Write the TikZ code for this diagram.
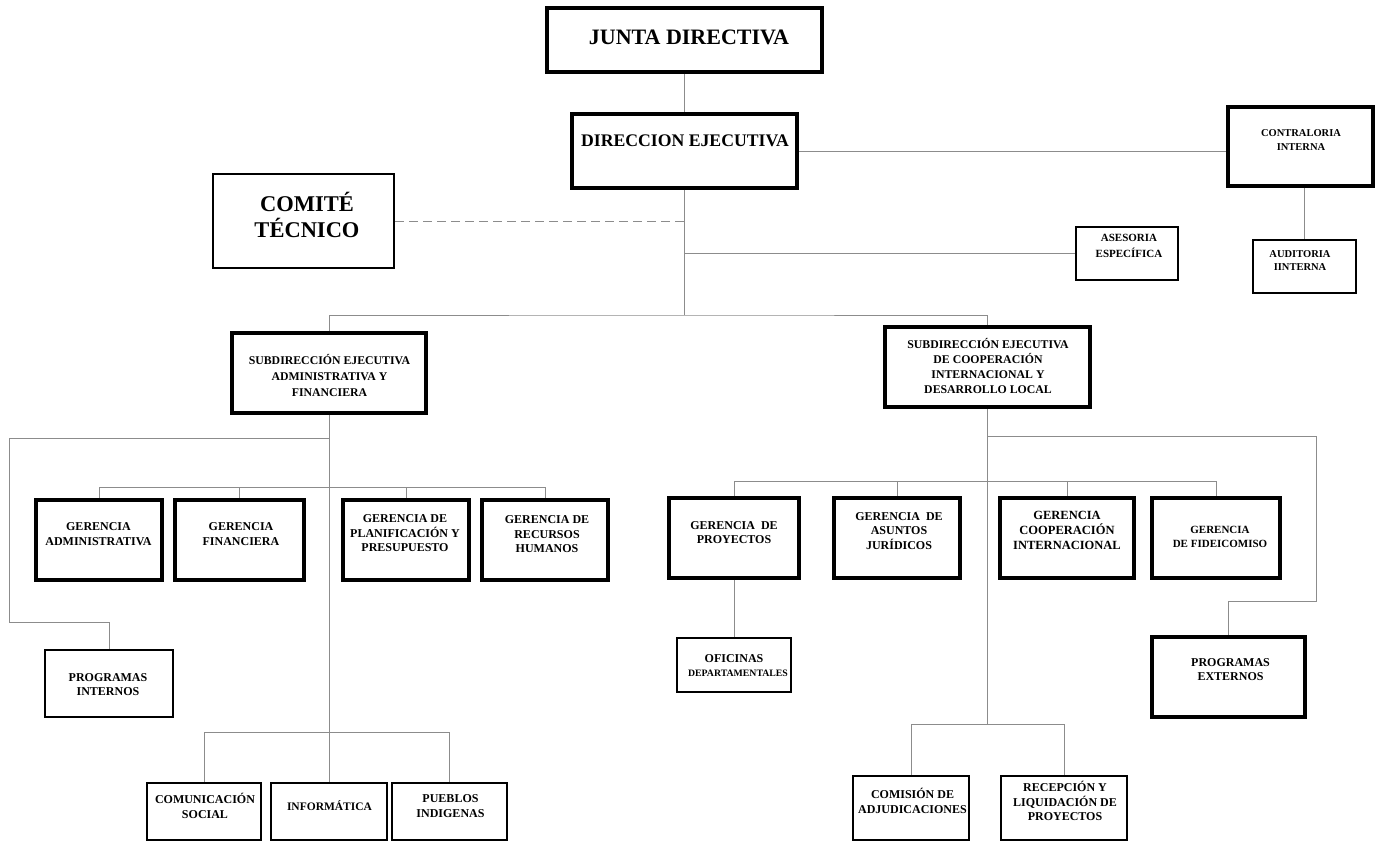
\documentclass[tikz,border=0pt]{standalone}
\usepackage{fontspec}
\setmainfont{Liberation Serif}
\begin{document}
\begin{tikzpicture}[x=1pt,y=-1pt,
  thickbox/.style={draw=black, line width=3.6pt, inner sep=0pt},
  midbox/.style={draw=black, line width=2.6pt, inner sep=0pt},
  thinbox/.style={draw=black, line width=1.9pt, inner sep=0pt},
  link/.style={draw=black!45, line width=0.9pt},
  dashlink/.style={link, dash pattern=on 9pt off 5pt},
  lbl/.style={align=center, inner sep=0pt, font=\bfseries\fontsize{12}{14.5}\selectfont},
  big/.style={align=center, inner sep=0pt, font=\bfseries\fontsize{#1}{26}\selectfont}]
\useasboundingbox (0,0) rectangle (1376,842);

% box: style, name, left, top, right, bottom
\newcommand\orgbox[6]{%
  \node[#1, minimum width={#5-#3}, minimum height={#6-#4}] (#2)
    at ({(#3+#5)/2},{(#4+#6)/2}) {};}

% top of the chart
\orgbox{thickbox}{ja}{547}{8}{822}{72}
\orgbox{thickbox}{de}{572}{114}{797}{188}
\orgbox{thickbox}{ci}{1228}{107}{1373}{186}
\orgbox{thinbox}{au}{1253}{240}{1356}{293}
\orgbox{thinbox}{as}{1076}{227}{1178}{280}
\orgbox{midbox}{ct}{213}{174}{394}{268}

% sub-directorates
\orgbox{thickbox}{s1}{232}{333}{426}{413}
\orgbox{thickbox}{s2}{885}{327}{1090}{407}

% management units, left
\orgbox{thickbox}{ga}{36}{500}{162}{580}
\orgbox{thickbox}{gf}{175}{500}{304}{580}
\orgbox{thickbox}{gp}{343}{500}{469}{580}
\orgbox{thickbox}{gr}{482}{500}{608}{580}

% management units, right
\orgbox{thickbox}{gpy}{669}{498}{799}{578}
\orgbox{thickbox}{gaj}{834}{498}{960}{578}
\orgbox{thickbox}{gco}{1000}{498}{1134}{578}
\orgbox{thickbox}{gfi}{1152}{498}{1280}{578}

% lower units
\orgbox{thinbox}{of}{677}{638}{791}{692}
\orgbox{midbox}{pi}{45}{650}{173}{717}
\orgbox{thickbox}{pe}{1152}{637}{1305}{717}
\orgbox{thinbox}{cs}{147}{783}{261}{840}
\orgbox{thinbox}{inf}{271}{783}{387}{840}
\orgbox{thinbox}{pu}{392}{783}{507}{840}
\orgbox{thinbox}{cm}{853}{776}{969}{840}
\orgbox{thinbox}{re}{1001}{776}{1127}{840}

% labels
\node[big=22] at (689,37) {JUNTA DIRECTIVA};
\node[big=17.7] at (685,141) {DIRECCION EJECUTIVA};
\node[big=22.5] at (307,215) {COMITÉ\\TÉCNICO};
\node[lbl, font=\bfseries\fontsize{10.5}{14}\selectfont] at (1301,140) {CONTRALORIA\\INTERNA};
\node[lbl, font=\bfseries\fontsize{10.5}{13.5}\selectfont] at (1300,260.5) {AUDITORIA\\IINTERNA};
\node[lbl, font=\bfseries\fontsize{11}{16}\selectfont] at (1129,246) {ASESORIA\\ESPECÍFICA};
\node[lbl, font=\bfseries\fontsize{11.8}{16}\selectfont] at (329.5,375) {SUBDIRECCIÓN EJECUTIVA\\ADMINISTRATIVA Y\\FINANCIERA};
\node[lbl, font=\bfseries\fontsize{11.8}{15.3}\selectfont] at (988,366) {SUBDIRECCIÓN EJECUTIVA\\DE COOPERACIÓN\\INTERNACIONAL Y\\DESARROLLO LOCAL};
\node[lbl] at (98.5,534) {GERENCIA\\ADMINISTRATIVA};
\node[lbl] at (241,534) {GERENCIA\\FINANCIERA};
\node[lbl] at (405,533.5) {GERENCIA DE\\PLANIFICACIÓN Y\\PRESUPUESTO};
\node[lbl] at (547,534.5) {GERENCIA DE\\RECURSOS\\HUMANOS};
\node[lbl] at (734,532.5) {GERENCIA~~DE\\PROYECTOS};
\node[lbl] at (899,531) {GERENCIA~~DE\\ASUNTOS\\JURÍDICOS};
\node[lbl, font=\bfseries\fontsize{12.5}{15}\selectfont] at (1067,530) {GERENCIA\\COOPERACIÓN\\INTERNACIONAL};
\node[lbl, font=\bfseries\fontsize{11}{14}\selectfont] at (1220,537) {GERENCIA\\DE FIDEICOMISO};
\node[lbl] at (734,659) {OFICINAS};
\node[lbl, font=\bfseries\fontsize{9.8}{12}\selectfont] at (738,673) {DEPARTAMENTALES};
\node[lbl] at (108,684.5) {PROGRAMAS\\INTERNOS};
\node[lbl] at (1230.5,669.5) {PROGRAMAS\\EXTERNOS};
\node[lbl] at (205,806) {COMUNICACIÓN\\SOCIAL};
\node[lbl, font=\bfseries\fontsize{11.5}{14}\selectfont] at (329.5,806) {INFORMÁTICA};
\node[lbl] at (450.5,806) {PUEBLOS\\INDIGENAS};
\node[lbl] at (912.5,801) {COMISIÓN DE\\ADJUDICACIONES};
\node[lbl] at (1065,801) {RECEPCIÓN Y\\LIQUIDACIÓN DE\\PROYECTOS};

% junction points of the connectors
\coordinate (bar1) at (684.5,315);
\coordinate (lb) at (329,438);
\coordinate (lc) at (9,438);
\coordinate (ld) at (9,622);
\coordinate (gb) at (0,487);
\coordinate (bb) at (0,732);
\coordinate (ra) at (987.5,436);
\coordinate (rb) at (1316,436);
\coordinate (rc) at (1316,601);
\coordinate (gbr) at (0,481);
\coordinate (cb) at (0,724);

% connectors, top
\draw[link] (ja.south) -- (de.north);
\draw[link] (de.south) -- (bar1);
\draw[link] (s1.north) |- (bar1) -| (s2.north);
\draw[link] (de.east) -- (de.east -| ci.west);
\draw[link] (ci.south -| au.north) -- (au.north);
\draw[dashlink] (ct.east) -- (ct.east -| bar1);
\draw[link] (as.west) -- (as.west -| bar1);

% connectors, left branch
\draw[link] (s1.south) -- (inf.north);
\draw[link] (lb) -- (lc) -- (ld) -| (pi.north);
\draw[link] (ga.north) |- (gr.north |- gb) -- (gr.north);
\draw[link] (gf.north) -- (gf.north |- gb);
\draw[link] (gp.north) -- (gp.north |- gb);
\draw[link] (cs.north) |- (pu.north |- bb) -- (pu.north);

% connectors, right branch
\draw[link] (s2.south) -- (s2.south |- cb);
\draw[link] (cm.north) |- (re.north |- cb) -- (re.north);
\draw[link] (ra) -- (rb) -- (rc) -| (pe.north);
\draw[link] (gpy.north) |- (gfi.north |- gbr) -- (gfi.north);
\draw[link] (gaj.north) -- (gaj.north |- gbr);
\draw[link] (gco.north) -- (gco.north |- gbr);
\draw[link] (gpy.south) -- (of.north);
\end{tikzpicture}
\end{document}
